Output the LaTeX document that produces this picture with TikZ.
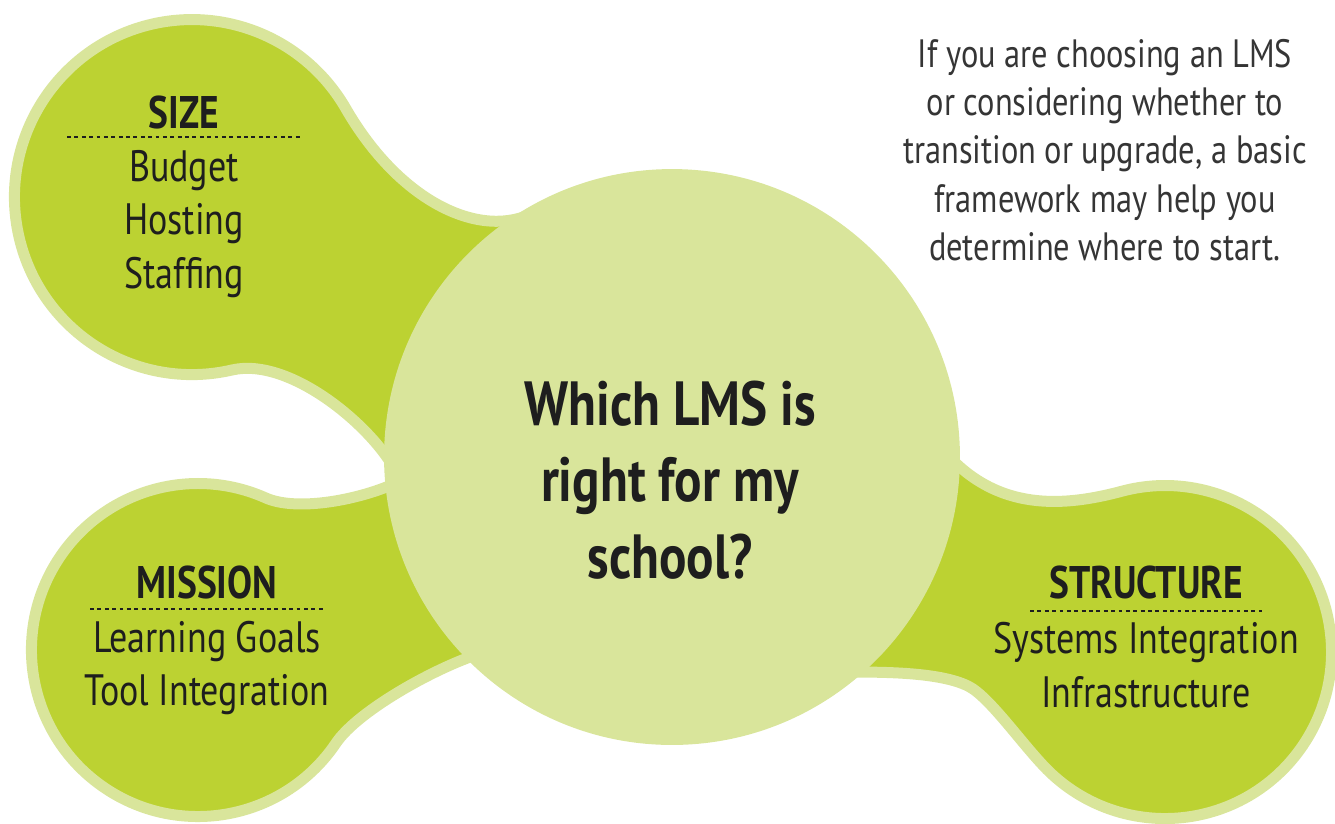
\documentclass[tikz,border=0pt]{standalone}
\usepackage{fontspec}
\setmainfont{PT Sans}[FakeStretch=0.82]
\usetikzlibrary{positioning}
\definecolor{limegreen}{HTML}{BCD232}
\definecolor{palegreen}{HTML}{D9E59B}
\definecolor{inkgray}{HTML}{1E1E1E}

\tikzset{
	blob/.style={fill=limegreen, draw=palegreen, line width=0.22cm, line join=round},
	title/.style={font=\bfseries\fontsize{26}{30}\selectfont, text=inkgray, inner sep=0pt, anchor=base},
	items/.style={font=\fontsize{25}{30.6}\selectfont, text=inkgray, align=center, inner sep=0pt},
	rule/.style={inkgray, line width=0.8pt, dash pattern=on 2.2pt off 2pt},
	note/.style={font=\fontsize{22.5}{27.5}\selectfont, text=inkgray!90, align=center, inner sep=0pt}
}

\begin{document}
\begin{tikzpicture}[x=0.02cm, y=-0.02cm]
	\clip (0,0) rectangle (1335,823);
	% three outer blobs, drawn as one outline each
	\draw[blob] (231.9,370) arc[start angle=77, end angle=330, radius=177.5]
		.. controls (400.7,203.6) and (482.2,240.2) .. (535,212)
		-- (672,457) -- (396,472)
		.. controls (373.5,427.5) and (290.3,356.5) .. (231.9,370) -- cycle;
	\draw[blob] (336,743.1) arc[start angle=34, end angle=294, radius=166.5]
		.. controls (297.7,512.1) and (362,499.2) .. (398,482)
		-- (672,457) -- (485,652)
		.. controls (440,665) and (358.4,709.9) .. (336,743.1) -- cycle;
	\draw[blob] (1121.9,491.2) arc[start angle=255, end angle=493, radius=166.5]
		.. controls (1025.8,749.9) and (990.5,697) .. (968,686)
		.. controls (941,672.8) and (890,672) .. (850,672)
		-- (672,457) -- (945,452)
		.. controls (997.8,512) and (1063.9,506.7) .. (1121.9,491.2) -- cycle;
	% centre circle
	\node[circle, fill=palegreen, minimum size=11.52cm, inner sep=0pt] (hub) at (672,457) {};
	\node[font=\bfseries\fontsize{35.5}{43.6}\selectfont, text=inkgray, align=center, inner sep=0pt] (question) at (670,480) {Which LMS is\\right for my\\school?};

	\node[title] (size) at (184,128) {SIZE};
	\draw[rule] (67,137) -- (300,137);
	\node[items] (sizelist) at (184,224) {Budget\\Hosting\\Staffing};

	\node[title] (mission) at (207,598) {MISSION};
	\draw[rule] (90,609) -- (323,609);
	\node[items] (missionlist) at (207,668) {Learning Goals\\Tool Integration};

	\node[title] (structure) at (1146,598) {STRUCTURE};
	\draw[rule] (1030,611) -- (1262,611);
	\node[items] (structurelist) at (1146,665) {Systems Integration\\Infrastructure};

	\node[note] (intro) at (1105,150) {If you are choosing an LMS\\or considering whether to\\transition or upgrade, a basic\\framework may help you\\determine where to start.};
\end{tikzpicture}
\end{document}
